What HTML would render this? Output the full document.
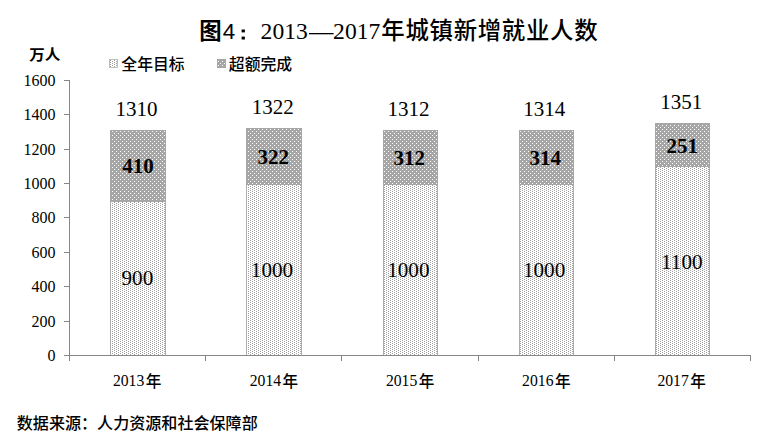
<!DOCTYPE html>
<html lang="zh-CN">
<head>
<meta charset="utf-8">
<title>图4：2013—2017年城镇新增就业人数</title>
<style>
html,body{margin:0;padding:0;background:#fff;}
body{width:760px;height:448px;overflow:hidden;font-family:"Liberation Serif",serif;}
svg{display:block;}
text{fill:#000;}
</style>
</head>
<body>
<svg width="760" height="448" viewBox="0 0 760 448">
<defs><pattern id="pl" x="0" y="0" width="4" height="2" patternUnits="userSpaceOnUse"><rect width="4" height="2" fill="#fff"/><rect x="0" y="1" width="1" height="1" fill="#a0a0a0"/><rect x="2" y="0" width="1" height="1" fill="#a0a0a0"/></pattern><pattern id="pd" x="0" y="0" width="4" height="4" patternUnits="userSpaceOnUse"><rect width="4" height="4" fill="#a6a6a6"/><rect x="0" y="3" width="1" height="1" fill="#fff"/><rect x="2" y="1" width="1" height="1" fill="#fff"/></pattern></defs>
<rect width="760" height="448" fill="#fff"/>
<g shape-rendering="crispEdges">
<rect x="241.6" y="29.5" width="3.3" height="2.9" fill="#000" shape-rendering="geometricPrecision"/>
<rect x="241.6" y="36.6" width="3.3" height="2.9" fill="#000" shape-rendering="geometricPrecision"/>
<rect x="309.0" y="33.0" width="24.6" height="1.3" fill="#000" shape-rendering="geometricPrecision"/>
<rect x="109" y="59" width="9" height="9" fill="url(#pl)" />
<rect x="109.5" y="59.5" width="8" height="8" fill="none" stroke="#bdbdbd" stroke-width="1"/>
<rect x="217" y="59" width="9" height="9" fill="#a6a6a6" />
<rect x="218" y="60" width="7" height="7" fill="url(#pd)" />
<rect x="69" y="80" width="1" height="276" fill="#868686" />
<rect x="64" y="355" width="687" height="1" fill="#868686" />
<rect x="64" y="80" width="6" height="1" fill="#868686" />
<rect x="64" y="114" width="6" height="1" fill="#868686" />
<rect x="64" y="149" width="6" height="1" fill="#868686" />
<rect x="64" y="183" width="6" height="1" fill="#868686" />
<rect x="64" y="217" width="6" height="1" fill="#868686" />
<rect x="64" y="252" width="6" height="1" fill="#868686" />
<rect x="64" y="286" width="6" height="1" fill="#868686" />
<rect x="64" y="321" width="6" height="1" fill="#868686" />
<rect x="64" y="355" width="6" height="1" fill="#868686" />
<rect x="69" y="355" width="1" height="6" fill="#868686" />
<rect x="205" y="355" width="1" height="6" fill="#868686" />
<rect x="341" y="355" width="1" height="6" fill="#868686" />
<rect x="478" y="355" width="1" height="6" fill="#868686" />
<rect x="614" y="355" width="1" height="6" fill="#868686" />
<rect x="750" y="355" width="1" height="6" fill="#868686" />
<rect x="110" y="130" width="56" height="71" fill="url(#pd)" />
<rect x="110" y="201" width="56" height="154" fill="url(#pl)" />
<rect x="110" y="130" width="1" height="71" fill="#a6a6a6" />
<rect x="165" y="130" width="1" height="71" fill="#a6a6a6" />
<rect x="110" y="130" width="56" height="1" fill="#a6a6a6" />
<rect x="110" y="201" width="56" height="1" fill="#a6a6a6" />
<rect x="110" y="202" width="1" height="153" fill="#adadad" />
<rect x="165" y="202" width="1" height="153" fill="#adadad" />
<rect x="246" y="128" width="56" height="56" fill="url(#pd)" />
<rect x="246" y="184" width="56" height="171" fill="url(#pl)" />
<rect x="246" y="128" width="1" height="56" fill="#a6a6a6" />
<rect x="301" y="128" width="1" height="56" fill="#a6a6a6" />
<rect x="246" y="128" width="56" height="1" fill="#a6a6a6" />
<rect x="246" y="184" width="56" height="1" fill="#a6a6a6" />
<rect x="246" y="185" width="1" height="170" fill="#adadad" />
<rect x="301" y="185" width="1" height="170" fill="#adadad" />
<rect x="383" y="130" width="55" height="54" fill="url(#pd)" />
<rect x="383" y="184" width="55" height="171" fill="url(#pl)" />
<rect x="383" y="130" width="1" height="54" fill="#a6a6a6" />
<rect x="437" y="130" width="1" height="54" fill="#a6a6a6" />
<rect x="383" y="130" width="55" height="1" fill="#a6a6a6" />
<rect x="383" y="184" width="55" height="1" fill="#a6a6a6" />
<rect x="383" y="185" width="1" height="170" fill="#adadad" />
<rect x="437" y="185" width="1" height="170" fill="#adadad" />
<rect x="519" y="130" width="55" height="54" fill="url(#pd)" />
<rect x="519" y="184" width="55" height="171" fill="url(#pl)" />
<rect x="519" y="130" width="1" height="54" fill="#a6a6a6" />
<rect x="573" y="130" width="1" height="54" fill="#a6a6a6" />
<rect x="519" y="130" width="55" height="1" fill="#a6a6a6" />
<rect x="519" y="184" width="55" height="1" fill="#a6a6a6" />
<rect x="519" y="185" width="1" height="170" fill="#adadad" />
<rect x="573" y="185" width="1" height="170" fill="#adadad" />
<rect x="655" y="123" width="55" height="43" fill="url(#pd)" />
<rect x="655" y="166" width="55" height="189" fill="url(#pl)" />
<rect x="655" y="123" width="1" height="43" fill="#a6a6a6" />
<rect x="709" y="123" width="1" height="43" fill="#a6a6a6" />
<rect x="655" y="123" width="55" height="1" fill="#a6a6a6" />
<rect x="655" y="166" width="55" height="1" fill="#a6a6a6" />
<rect x="655" y="167" width="1" height="188" fill="#adadad" />
<rect x="709" y="167" width="1" height="188" fill="#adadad" />
</g>
<text x="199.15" y="38.90" font-family="'Liberation Sans', 'Noto Sans CJK SC', sans-serif" font-size="22.4px" font-weight="bold" text-anchor="start">图</text>
<text x="222.84" y="38.90" font-family="'Liberation Sans', sans-serif" font-size="22.4px" font-weight="normal" text-anchor="start">4</text>
<text x="260.60" y="38.60" font-family="'Liberation Serif', serif" font-size="23.6px" font-weight="normal" text-anchor="start" >2013</text>
<text x="333.10" y="38.60" font-family="'Liberation Serif', serif" font-size="23.6px" font-weight="normal" text-anchor="start" >2017</text>
<text x="381.35" y="39.30" font-family="'Liberation Sans', 'Noto Sans CJK SC', sans-serif" font-size="23.4px" font-weight="500" text-anchor="start" textLength="216.2" lengthAdjust="spacing">年城镇新增就业人数</text>
<text x="29.20" y="60.30" font-family="'Liberation Sans', 'Noto Sans CJK SC', sans-serif" font-size="14.7px" font-weight="bold" text-anchor="start" textLength="31" lengthAdjust="spacingAndGlyphs">万人</text>
<text x="121.30" y="70.40" font-family="'Liberation Sans', 'Noto Sans CJK SC', sans-serif" font-size="15.8px" font-weight="500" text-anchor="start" textLength="63.4" lengthAdjust="spacingAndGlyphs">全年目标</text>
<text x="228.80" y="70.40" font-family="'Liberation Sans', 'Noto Sans CJK SC', sans-serif" font-size="15.8px" font-weight="500" text-anchor="start" textLength="63.4" lengthAdjust="spacingAndGlyphs">超额完成</text>
<text x="55.40" y="86.00" font-family="'Liberation Serif', serif" font-size="16px" font-weight="normal" text-anchor="end" >1600</text>
<text x="55.40" y="120.00" font-family="'Liberation Serif', serif" font-size="16px" font-weight="normal" text-anchor="end" >1400</text>
<text x="55.40" y="155.00" font-family="'Liberation Serif', serif" font-size="16px" font-weight="normal" text-anchor="end" >1200</text>
<text x="55.40" y="189.00" font-family="'Liberation Serif', serif" font-size="16px" font-weight="normal" text-anchor="end" >1000</text>
<text x="55.40" y="223.00" font-family="'Liberation Serif', serif" font-size="16px" font-weight="normal" text-anchor="end" >800</text>
<text x="55.40" y="258.00" font-family="'Liberation Serif', serif" font-size="16px" font-weight="normal" text-anchor="end" >600</text>
<text x="55.40" y="292.00" font-family="'Liberation Serif', serif" font-size="16px" font-weight="normal" text-anchor="end" >400</text>
<text x="55.40" y="327.00" font-family="'Liberation Serif', serif" font-size="16px" font-weight="normal" text-anchor="end" >200</text>
<text x="55.40" y="361.00" font-family="'Liberation Serif', serif" font-size="16px" font-weight="normal" text-anchor="end" >0</text>
<text x="136.50" y="116.20" font-family="'Liberation Serif', serif" font-size="21.0px" font-weight="normal" text-anchor="middle" >1310</text>
<text x="272.75" y="114.20" font-family="'Liberation Serif', serif" font-size="21.0px" font-weight="normal" text-anchor="middle" >1322</text>
<text x="408.40" y="116.20" font-family="'Liberation Serif', serif" font-size="21.0px" font-weight="normal" text-anchor="middle" >1312</text>
<text x="544.20" y="116.20" font-family="'Liberation Serif', serif" font-size="21.0px" font-weight="normal" text-anchor="middle" >1314</text>
<text x="681.25" y="109.20" font-family="'Liberation Serif', serif" font-size="21.0px" font-weight="normal" text-anchor="middle" >1351</text>
<text x="138.00" y="172.90" font-family="'Liberation Serif', serif" font-size="21.0px" font-weight="bold" text-anchor="middle" >410</text>
<text x="273.15" y="163.80" font-family="'Liberation Serif', serif" font-size="21.0px" font-weight="bold" text-anchor="middle" >322</text>
<text x="409.15" y="164.60" font-family="'Liberation Serif', serif" font-size="21.0px" font-weight="bold" text-anchor="middle" >312</text>
<text x="545.15" y="164.60" font-family="'Liberation Serif', serif" font-size="21.0px" font-weight="bold" text-anchor="middle" >314</text>
<text x="682.25" y="153.20" font-family="'Liberation Serif', serif" font-size="21.0px" font-weight="bold" text-anchor="middle" >251</text>
<text x="137.35" y="285.40" font-family="'Liberation Serif', serif" font-size="21.2px" font-weight="normal" text-anchor="middle" >900</text>
<text x="272.00" y="276.90" font-family="'Liberation Serif', serif" font-size="21.2px" font-weight="normal" text-anchor="middle" >1000</text>
<text x="408.35" y="276.90" font-family="'Liberation Serif', serif" font-size="21.2px" font-weight="normal" text-anchor="middle" >1000</text>
<text x="544.10" y="276.90" font-family="'Liberation Serif', serif" font-size="21.2px" font-weight="normal" text-anchor="middle" >1000</text>
<text x="681.85" y="268.80" font-family="'Liberation Serif', serif" font-size="21.2px" font-weight="normal" text-anchor="middle" >1100</text>
<text x="112.90" y="385.90" font-family="'Liberation Serif', serif" font-size="15.7px" font-weight="normal" text-anchor="start" >2013</text>
<text x="145.70" y="386.70" font-family="'Liberation Sans', 'Noto Sans CJK SC', sans-serif" font-size="15.6px" font-weight="500" text-anchor="start">年</text>
<text x="249.70" y="385.90" font-family="'Liberation Serif', serif" font-size="15.7px" font-weight="normal" text-anchor="start" >2014</text>
<text x="282.50" y="386.70" font-family="'Liberation Sans', 'Noto Sans CJK SC', sans-serif" font-size="15.6px" font-weight="500" text-anchor="start">年</text>
<text x="385.90" y="385.90" font-family="'Liberation Serif', serif" font-size="15.7px" font-weight="normal" text-anchor="start" >2015</text>
<text x="418.70" y="386.70" font-family="'Liberation Sans', 'Noto Sans CJK SC', sans-serif" font-size="15.6px" font-weight="500" text-anchor="start">年</text>
<text x="522.10" y="385.90" font-family="'Liberation Serif', serif" font-size="15.7px" font-weight="normal" text-anchor="start" >2016</text>
<text x="554.90" y="386.70" font-family="'Liberation Sans', 'Noto Sans CJK SC', sans-serif" font-size="15.6px" font-weight="500" text-anchor="start">年</text>
<text x="657.40" y="385.90" font-family="'Liberation Serif', serif" font-size="15.7px" font-weight="normal" text-anchor="start" >2017</text>
<text x="690.20" y="386.70" font-family="'Liberation Sans', 'Noto Sans CJK SC', sans-serif" font-size="15.6px" font-weight="500" text-anchor="start">年</text>
<text x="16.80" y="428.60" font-family="'Liberation Sans', 'Noto Sans CJK SC', sans-serif" font-size="15.9px" font-weight="500" text-anchor="start" textLength="240.9" lengthAdjust="spacingAndGlyphs">数据来源：人力资源和社会保障部</text>
</svg>
</body>
</html>
